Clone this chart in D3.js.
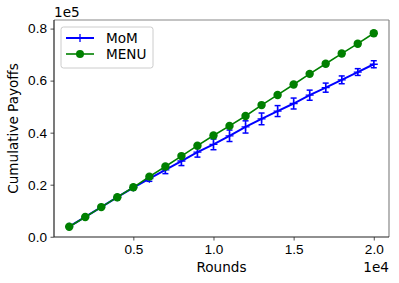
<!DOCTYPE html>
<html>
<head>
<meta charset="utf-8">
<script src="https://cdn.jsdelivr.net/npm/d3@7"></script>
<style>
  body { margin: 0; background: #fff; }
  svg { display: block; font-family: "DejaVu Sans", sans-serif; }
</style>
</head>
<body>
<svg id="chart"></svg>
<script>
(function () {
var width = 399, height = 283
var margin = {top: 20, right: 10, bottom: 46, left: 54}
var fontSize = '13.6px'

// data
var rounds = [1000, 2000, 3000, 4000, 5000, 6000, 7000, 8000, 9000, 10000,
              11000, 12000, 13000, 14000, 15000, 16000, 17000, 18000, 19000, 20000]
var momValues = [3850, 7600, 11400, 15200, 18900, 22300, 25700, 29100, 32500, 35500,
                 38800, 42200, 45300, 48300, 51200, 54400, 57300, 60300, 63300, 66300]
var momErrors = [150, 300, 400, 550, 700, 1000, 1450, 1750, 1900, 2050,
                 2200, 2350, 2250, 2100, 2100, 1950, 1750, 1500, 1300, 1350]
var menuValues = [3850, 7600, 11400, 15200, 19000, 23100, 27000, 31000, 35000, 38900,
                  42600, 46400, 50600, 54500, 58500, 62600, 66500, 70400, 74200, 78200]
var menuErrors = [100, 150, 200, 250, 300, 350, 400, 450, 500, 550,
                  600, 600, 650, 650, 700, 700, 750, 750, 800, 800]
var xTicks = [5000, 10000, 15000, 20000]
var yTicks = [0, 20000, 40000, 60000, 80000]

var blue = '#0000ff', green = '#008000'

var series = [
    {name: 'MoM', values: momValues, errors: momErrors, color: blue, marker: 'plus'},
    {name: 'MENU', values: menuValues, errors: menuErrors, color: green, marker: 'circle'},
]

var svg = d3.select('#chart').attr('width', width).attr('height', height)

var x = d3.scaleLinear().domain([50, 20950]).range([margin.left, width - margin.right])
var y = d3.scaleLinear().domain([-100, 83300]).range([height - margin.bottom, margin.top])

// axes
svg.append('g')
    .attr('transform', 'translate(0,' + (height - margin.bottom) + ')')
    .call(d3.axisBottom(x).tickValues(xTicks).tickSize(3.5).tickPadding(3.5)
        .tickFormat(d => (d / 1e4).toFixed(1)))
svg.append('g')
    .attr('transform', 'translate(' + margin.left + ',0)')
    .call(d3.axisLeft(y).tickValues(yTicks).tickSize(3.5).tickPadding(3.5)
        .tickFormat(d => (d / 1e5).toFixed(1)))
svg.selectAll('.domain').remove()
svg.selectAll('.tick line').attr('stroke', '#222').attr('stroke-width', 0.8)
svg.selectAll('.tick text').attr('fill', '#000').style('font-size', fontSize)

// frame: top/right lighter than bottom/left
var x0 = x.range()[0], x1 = x.range()[1], y0 = y.range()[0], y1 = y.range()[1]
svg.append('line').attr('x1', x0).attr('x2', x1).attr('y1', y1).attr('y2', y1)
    .attr('stroke', '#888').attr('stroke-width', 1.2)
svg.append('line').attr('x1', x1).attr('x2', x1).attr('y1', y0).attr('y2', y1)
    .attr('stroke', '#888').attr('stroke-width', 1.2)
svg.append('line').attr('x1', x0).attr('x2', x1).attr('y1', y0).attr('y2', y0)
    .attr('stroke', '#222').attr('stroke-width', 1.2)
svg.append('line').attr('x1', x0).attr('x2', x0).attr('y1', y0).attr('y2', y1)
    .attr('stroke', '#222').attr('stroke-width', 1.2)

var line = d3.line().x(d => x(d[0])).y(d => y(d[1]))

series.forEach(function (s) {
    var pts = rounds.map((r, i) => [r, s.values[i], s.errors[i]])
    var g = svg.append('g')
    g.append('path')
        .datum(pts)
        .attr('d', line)
        .attr('fill', 'none')
        .attr('stroke', s.color)
        .attr('stroke-width', s.marker == 'plus' ? 2 : 1.6)
    // error bars
    var eb = g.selectAll('.err').data(pts).enter().append('g')
    eb.append('line')
        .attr('x1', d => x(d[0])).attr('x2', d => x(d[0]))
        .attr('y1', d => y(d[1] - d[2])).attr('y2', d => y(d[1] + d[2]))
        .attr('stroke', s.color).attr('stroke-width', 1.5)
    ;[-1, 1].forEach(function (sg) {
        eb.append('line')
            .attr('x1', d => x(d[0]) - 3).attr('x2', d => x(d[0]) + 3)
            .attr('y1', d => y(d[1] + sg * d[2])).attr('y2', d => y(d[1] + sg * d[2]))
            .attr('stroke', s.color).attr('stroke-width', 1.5)
    })
    // markers
    if (s.marker == 'circle') {
        g.selectAll('circle').data(pts).enter().append('circle')
            .attr('cx', d => x(d[0])).attr('cy', d => y(d[1]))
            .attr('r', 4.2).attr('fill', s.color)
    } else {
        g.selectAll('.plus').data(pts).enter().append('path')
            .attr('d', d => 'M' + (x(d[0]) - 4) + ',' + y(d[1]) + 'h8M' + x(d[0]) + ',' + (y(d[1]) - 4) + 'v8')
            .attr('stroke', s.color).attr('stroke-width', 1.3)
    }
})

// labels
svg.append('text')
    .attr('x', (x0 + x1) / 2).attr('y', 272)
    .attr('text-anchor', 'middle').style('font-size', fontSize)
    .text('Rounds')
svg.append('text')
    .attr('x', x1).attr('y', 272)
    .attr('text-anchor', 'end').style('font-size', fontSize)
    .text('1e4')
svg.append('text')
    .attr('transform', 'translate(18,' + ((y0 + y1) / 2) + ') rotate(-90)')
    .attr('text-anchor', 'middle').style('font-size', fontSize)
    .text('Cumulative Payoffs')
svg.append('text')
    .attr('x', x0).attr('y', 17)
    .style('font-size', fontSize)
    .text('1e5')

// legend
var lg = svg.append('g').attr('transform', 'translate(61,27)')
lg.append('rect')
    .attr('width', 92).attr('height', 41).attr('rx', 2.5)
    .attr('fill', '#fff').attr('fill-opacity', 0.8)
    .attr('stroke', '#ccc').attr('stroke-width', 1)
series.forEach(function (s, i) {
    var cy = 11 + i * 16
    lg.append('line').attr('x1', 5).attr('x2', 33).attr('y1', cy).attr('y2', cy)
        .attr('stroke', s.color).attr('stroke-width', s.marker == 'plus' ? 2 : 1.6)
    if (s.marker == 'circle')
        lg.append('circle').attr('cx', 19).attr('cy', cy).attr('r', 4).attr('fill', s.color)
    else
        lg.append('path').attr('d', 'M15,' + cy + 'h8M19,' + (cy - 4) + 'v8')
            .attr('stroke', s.color).attr('stroke-width', 1.3)
    lg.append('text').attr('x', 45).attr('y', cy + 4.5)
        .style('font-size', fontSize).text(s.name)
})
})();
</script>
</body>
</html>
